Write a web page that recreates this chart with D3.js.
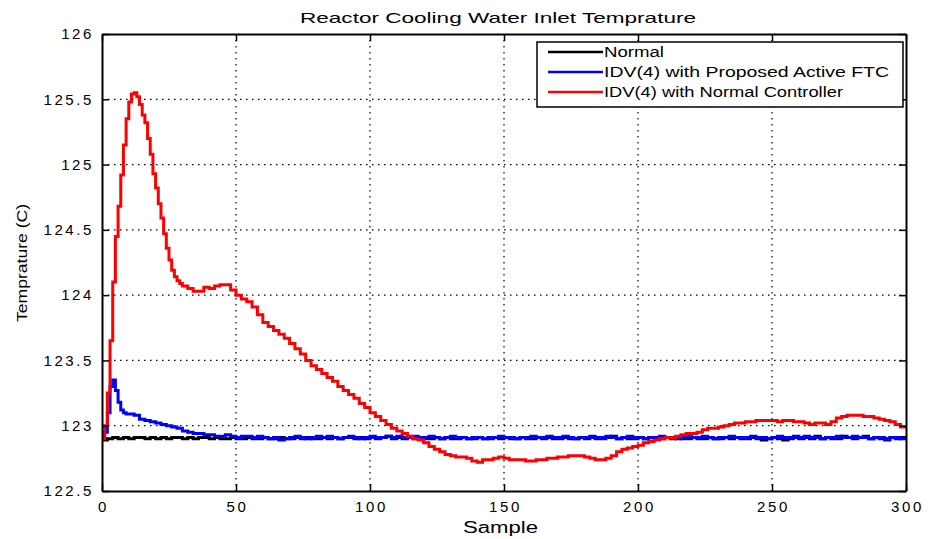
<!DOCTYPE html>
<html>
<head>
<meta charset="utf-8">
<script src="https://cdn.jsdelivr.net/npm/d3@7"></script>
<style>
  html, body { margin: 0; padding: 0; background: #fff; }
  svg { display: block; }
  text { font-family: "Liberation Sans", Arial, sans-serif; fill: #000; }
</style>
</head>
<body>
<svg id="chart" width="934" height="539"></svg>
<script>
// Reactor cooling water inlet temperature (°C) against sample number.
// Each series is a list of sample numbers and the matching readings.

const normalSamples = d3.range(0, 301, 2);
const normalValues = [
  122.89, 122.90, 122.91, 122.90, 122.91, 122.90, 122.91, 122.91, 122.90, 122.91,
  122.90, 122.91, 122.90, 122.91, 122.91, 122.90, 122.91, 122.90, 122.91, 122.91,
  122.90, 122.91, 122.90, 122.90, 122.91, 122.90, 122.90, 122.91, 122.90, 122.90,
  122.91, 122.90, 122.90, 122.91, 122.90, 122.90, 122.91, 122.90, 122.91, 122.90,
  122.90, 122.91, 122.90, 122.91, 122.90, 122.91, 122.91, 122.90, 122.91, 122.90,
  122.91, 122.90, 122.91, 122.92, 122.90, 122.91, 122.90, 122.91, 122.90, 122.91,
  122.90, 122.90, 122.91, 122.90, 122.91, 122.90, 122.90, 122.91, 122.90, 122.90,
  122.91, 122.90, 122.90, 122.91, 122.90, 122.91, 122.90, 122.90, 122.91, 122.90,
  122.90, 122.91, 122.90, 122.91, 122.90, 122.90, 122.91, 122.90, 122.90, 122.91,
  122.90, 122.91, 122.90, 122.90, 122.91, 122.92, 122.90, 122.91, 122.90, 122.90,
  122.91, 122.90, 122.91, 122.90, 122.90, 122.91, 122.90, 122.91, 122.90, 122.90,
  122.91, 122.90, 122.90, 122.91, 122.90, 122.90, 122.91, 122.90, 122.91, 122.90,
  122.90, 122.91, 122.90, 122.89, 122.90, 122.91, 122.90, 122.89, 122.90, 122.91,
  122.90, 122.91, 122.90, 122.92, 122.90, 122.91, 122.90, 122.90, 122.92, 122.91,
  122.90, 122.91, 122.92, 122.90, 122.91, 122.90, 122.90, 122.91, 122.90, 122.91,
  122.91
];

// every sample through the initial transient, then every 2 samples
const activeFtcSamples = d3.range(0, 10).concat(d3.range(10, 301, 2));
const activeFtcValues = [
  122.90, 122.95, 123.10, 123.30, 123.35, 123.27, 123.18, 123.12, 123.10, 123.09,
  123.09, 123.08, 123.05, 123.04, 123.03,
  123.02, 123.01, 123.00, 122.99, 122.98, 122.96, 122.95, 122.94, 122.94, 122.93,
  122.93, 122.92, 122.92, 122.93, 122.92, 122.91, 122.92, 122.92, 122.91, 122.92,
  122.91, 122.90, 122.91, 122.89, 122.90, 122.91, 122.92, 122.91, 122.90, 122.91,
  122.92, 122.91, 122.92, 122.91, 122.90, 122.91, 122.92, 122.91, 122.90, 122.91,
  122.92, 122.91, 122.91, 122.92, 122.91, 122.92, 122.91, 122.91, 122.92, 122.91,
  122.91, 122.92, 122.91, 122.90, 122.91, 122.92, 122.91, 122.91, 122.90, 122.91,
  122.91, 122.90, 122.91, 122.91, 122.92, 122.91, 122.91, 122.90, 122.91, 122.91,
  122.92, 122.91, 122.91, 122.92, 122.91, 122.91, 122.92, 122.91, 122.90, 122.91,
  122.91, 122.92, 122.91, 122.91, 122.92, 122.91, 122.90, 122.91, 122.92, 122.91,
  122.91, 122.90, 122.91, 122.91, 122.92, 122.91, 122.91, 122.90, 122.91, 122.92,
  122.91, 122.91, 122.92, 122.91, 122.90, 122.91, 122.91, 122.92, 122.91, 122.91,
  122.91, 122.92, 122.91, 122.91, 122.90, 122.91, 122.92, 122.91, 122.91, 122.92,
  122.91, 122.92, 122.91, 122.91, 122.90, 122.91, 122.91, 122.92, 122.91, 122.91,
  122.92, 122.91, 122.91, 122.90, 122.91, 122.91, 122.89, 122.91, 122.91, 122.90,
  122.91
];

// every sample through the overshoot, then every 2 samples
const normalControllerSamples = d3.range(0, 30).concat(d3.range(30, 301, 2));
const normalControllerValues = [
  122.90, 123.00, 123.25, 123.65, 124.10, 124.45, 124.68, 124.92, 125.15, 125.35,
  125.48, 125.54, 125.55, 125.52, 125.46, 125.38, 125.32, 125.20, 125.08, 124.93,
  124.82, 124.70, 124.59, 124.47, 124.36, 124.27, 124.19, 124.14, 124.11, 124.09,
  124.07, 124.05, 124.03, 124.03, 124.06,
  124.05, 124.07, 124.08, 124.08, 124.04, 124.00, 123.97, 123.95, 123.91, 123.85,
  123.79, 123.76, 123.73, 123.70, 123.67, 123.63, 123.59, 123.55, 123.50, 123.46,
  123.43, 123.40, 123.37, 123.34, 123.30, 123.27, 123.24, 123.21, 123.17, 123.14,
  123.10, 123.07, 123.04, 123.01, 122.98, 122.96, 122.94, 122.92, 122.90, 122.89,
  122.87, 122.84, 122.82, 122.80, 122.78, 122.77, 122.76, 122.76, 122.75, 122.73,
  122.72, 122.74, 122.74, 122.75, 122.76, 122.75, 122.74, 122.74, 122.74, 122.73,
  122.73, 122.74, 122.74, 122.75, 122.75, 122.76, 122.76, 122.77, 122.77, 122.77,
  122.76, 122.75, 122.74, 122.74, 122.75, 122.77, 122.80, 122.82, 122.83, 122.84,
  122.85, 122.87, 122.88, 122.89, 122.90, 122.91, 122.91, 122.92, 122.93, 122.94,
  122.94, 122.95, 122.97, 122.98, 122.98, 122.99, 123.00, 123.01, 123.02, 123.02,
  123.03, 123.03, 123.04, 123.04, 123.04, 123.04, 123.03, 123.04, 123.04, 123.03,
  123.03, 123.02, 123.01, 123.02, 123.02, 123.01, 123.03, 123.06, 123.07, 123.08,
  123.08, 123.08, 123.07, 123.07, 123.06, 123.05, 123.04, 123.03, 123.01, 122.99,
  122.98
];

const seriesNames = ["Normal", "IDV(4) with Proposed Active FTC", "IDV(4) with Normal Controller"];
const seriesColors = ["#000000", "#0000ff", "#ff0000"];
const xTicks = [0, 50, 100, 150, 200, 250, 300];
const yTicks = [122.5, 123, 123.5, 124, 124.5, 125, 125.5, 126];

const titleText = "Reactor Cooling Water Inlet Temprature";
const xLabelText = "Sample";
const yLabelText = "Temprature (C)";

const series = [
  { samples: normalSamples, values: normalValues },
  { samples: activeFtcSamples, values: activeFtcValues },
  { samples: normalControllerSamples, values: normalControllerValues }
].map((s, i) => ({
  name: seriesNames[i],
  color: seriesColors[i],
  points: s.samples.map((k, j) => [k, s.values[j]])
}));

const svg = d3.select("#chart");
const plot = { left: 102, right: 906, top: 34, bottom: 491 };

const x = d3.scaleLinear().domain([0, 300]).range([plot.left, plot.right]);
const y = d3.scaleLinear().domain([122.5, 126]).range([plot.bottom, plot.top]);

// dotted grid
const grid = svg.append("g");
grid.selectAll("line.gx").data(xTicks.slice(1, -1)).join("line")
  .attr("x1", d => x(d)).attr("x2", d => x(d))
  .attr("y1", plot.top).attr("y2", plot.bottom)
  .attr("stroke", "#000").attr("stroke-width", 1.2).attr("stroke-dasharray", "1.5,4.5");
grid.selectAll("line.gy").data(yTicks.slice(1, -1)).join("line")
  .attr("y1", d => y(d)).attr("y2", d => y(d))
  .attr("x1", plot.left).attr("x2", plot.right)
  .attr("stroke", "#000").attr("stroke-width", 1.2).attr("stroke-dasharray", "1.5,4.5");

// data lines (sample-and-hold steps)
const line = d3.line()
  .x(d => x(d[0]))
  .y(d => y(d[1]))
  .curve(d3.curveStepAfter);

svg.append("clipPath").attr("id", "plotClip")
  .append("rect").attr("x", plot.left).attr("y", plot.top)
  .attr("width", plot.right - plot.left).attr("height", plot.bottom - plot.top);

svg.append("g").attr("clip-path", "url(#plotClip)")
  .selectAll("path").data(series).join("path")
  .attr("d", d => line(d.points))
  .attr("fill", "none")
  .attr("stroke", d => d.color)
  .attr("stroke-width", 3);

// axes with inward ticks on all four sides
const tickLen = 7;
const axisStyle = g => {
  g.select(".domain").attr("stroke", "#000").attr("stroke-width", 2);
  g.selectAll(".tick line").attr("stroke", "#000").attr("stroke-width", 1.5);
  g.selectAll(".tick text").style("font-size", "15px").style("letter-spacing", "2.6px").attr("fill", "#000");
};

svg.append("g").attr("transform", `translate(0,${plot.bottom})`)
  .call(d3.axisBottom(x).tickValues(xTicks).tickSizeInner(-tickLen).tickSizeOuter(0).tickPadding(10))
  .call(axisStyle)
  .call(g => g.selectAll(".tick text").attr("dx", "1px"));

svg.append("g").attr("transform", `translate(${plot.left},0)`)
  .call(d3.axisLeft(y).tickValues(yTicks).tickFormat(d3.format("")).tickSizeInner(-tickLen).tickSizeOuter(0).tickPadding(8))
  .call(axisStyle);

svg.append("g").attr("transform", `translate(0,${plot.top})`)
  .call(d3.axisTop(x).tickValues(xTicks).tickSizeInner(-tickLen).tickSizeOuter(0).tickFormat(""))
  .call(axisStyle);

svg.append("g").attr("transform", `translate(${plot.right},0)`)
  .call(d3.axisRight(y).tickValues(yTicks).tickSizeInner(-tickLen).tickSizeOuter(0).tickFormat(""))
  .call(axisStyle);

// titles
svg.append("text").attr("x", 300).attr("y", 23)
  .attr("textLength", 396).attr("lengthAdjust", "spacingAndGlyphs")
  .style("font-size", "15px").text(titleText);
svg.append("text").attr("x", 463).attr("y", 533)
  .attr("textLength", 75).attr("lengthAdjust", "spacingAndGlyphs")
  .style("font-size", "16px").text(xLabelText);
svg.append("text").attr("transform", "translate(27,322) rotate(-90)")
  .attr("textLength", 118).attr("lengthAdjust", "spacingAndGlyphs")
  .style("font-size", "14px").text(yLabelText);

// legend
const legendTextWidths = [60, 285, 239];
const legend = svg.append("g");
legend.append("rect").attr("x", 537).attr("y", 42).attr("width", 366).attr("height", 65)
  .attr("fill", "#fff").attr("stroke", "#000").attr("stroke-width", 1.5);
const rows = legend.selectAll("g.row").data(series).join("g")
  .attr("transform", (d, i) => `translate(0,${52 + i * 20})`);
rows.append("line").attr("x1", 548).attr("x2", 603).attr("y1", 0).attr("y2", 0)
  .attr("stroke", d => d.color).attr("stroke-width", 2.5);
rows.append("text").attr("x", 604).attr("y", 5)
  .attr("textLength", (d, i) => legendTextWidths[i]).attr("lengthAdjust", "spacingAndGlyphs")
  .style("font-size", "14px").text(d => d.name);
</script>
</body>
</html>
